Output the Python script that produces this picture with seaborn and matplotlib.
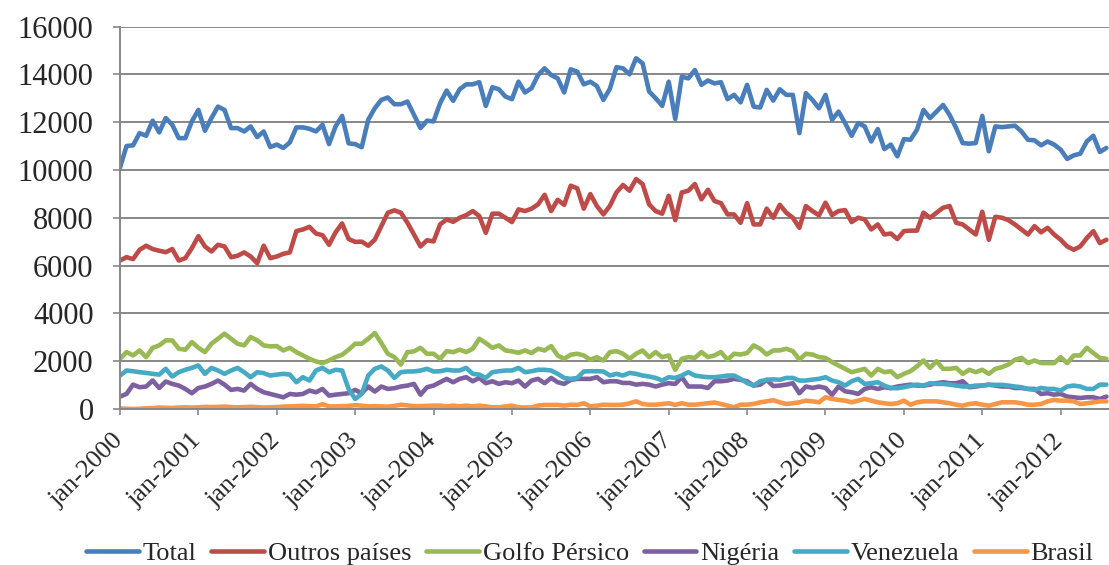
import matplotlib
matplotlib.use("Agg")
import matplotlib.pyplot as plt
import pandas as pd
import seaborn as sns

# Monthly series, jan-2000 .. aug-2012 (thousand barrels/day)
anos = list(range(2000, 2013))
rotulos_x = [f"jan-{a}" for a in anos]
nomes = ["Total", "Outros países", "Golfo Pérsico", "Nigéria", "Venezuela", "Brasil"]
cores = ["#4A7EBB", "#BE4B48", "#98B954", "#7D60A0", "#46AAC5", "#F79646"]

total = [
    10100, 11000, 11030, 11540, 11430, 12060, 11570, 12170, 11890, 11330, 11330, 12030,
    12510, 11640, 12170, 12650, 12510, 11750, 11750, 11610, 11820, 11375, 11610, 10960,
    11060, 10920, 11150, 11780, 11780, 11720, 11610, 11890, 11080, 11820, 12260, 11110,
    11080, 10950, 12100, 12580, 12930, 13030, 12750, 12750, 12860, 12300, 11750, 12060,
    12030, 12790, 13320, 12890, 13375, 13580, 13580, 13670, 12680, 13460, 13375, 13070,
    12960, 13690, 13240, 13420, 13970, 14250, 13970, 13830, 13240, 14210, 14110, 13580,
    13690, 13510, 12930, 13400, 14300, 14250, 14000, 14670, 14460, 13280, 13000, 12680,
    13690, 12130, 13900, 13830, 14180, 13560, 13740, 13620, 13670, 12960, 13140, 12830,
    13560, 12650, 12610, 13350, 12900, 13375, 13140, 13140, 11540, 13210, 12930, 12580,
    13140, 12100, 12440, 11960, 11430, 11960, 11820, 11190, 11710, 10875, 11060, 10570,
    11290, 11260, 11680, 12510, 12170, 12440, 12720, 12300, 11750, 11125, 11100, 11125,
    12260, 10780, 11820, 11790, 11820, 11850, 11610, 11260, 11240, 11030, 11190, 11060,
    10850, 10460, 10610, 10680, 11190, 11430, 10750, 10920,
]
outros = [
    6210, 6350, 6270, 6660, 6830, 6690, 6620, 6560, 6690, 6210, 6310, 6730,
    7230, 6800, 6590, 6870, 6800, 6350, 6410, 6550, 6380, 6100, 6830, 6310,
    6380, 6490, 6550, 7440, 7510, 7620, 7340, 7270, 6870, 7390, 7760, 7110,
    6990, 7000, 6830, 7080, 7650, 8210, 8310, 8210, 7790, 7300, 6800, 7060,
    7010, 7720, 7930, 7830, 8000, 8110, 8280, 8070, 7370, 8170, 8170, 8000,
    7820, 8350, 8280, 8380, 8560, 8960, 8280, 8750, 8540, 9340, 9230, 8380,
    8990, 8490, 8140, 8500, 9060, 9370, 9130, 9620, 9410, 8560, 8280, 8170,
    8920, 7900, 9060, 9130, 9410, 8770, 9170, 8700, 8610, 8140, 8140, 7790,
    8610, 7720, 7720, 8380, 8000, 8540, 8210, 8000, 7580, 8490, 8280, 8100,
    8630, 8110, 8280, 8320, 7820, 8000, 7930, 7510, 7720, 7300, 7340, 7110,
    7440, 7460, 7460, 8210, 8000, 8210, 8420, 8490, 7790, 7720, 7510, 7300,
    8250, 7080, 8040, 8000, 7900, 7720, 7510, 7300, 7650, 7390, 7580, 7300,
    7080, 6800, 6660, 6800, 7150, 7440, 6940, 7080,
]
golfo = [
    2100, 2380, 2240, 2450, 2170, 2560, 2660, 2870, 2870, 2520, 2480, 2800,
    2560, 2380, 2730, 2940, 3150, 2940, 2730, 2660, 3010, 2870, 2660, 2620,
    2630, 2450, 2560, 2380, 2240, 2100, 1990, 1920, 2030, 2170, 2270, 2480,
    2730, 2730, 2940, 3180, 2760, 2310, 2170, 1860, 2380, 2410, 2560, 2310,
    2310, 2100, 2420, 2380, 2480, 2380, 2520, 2940, 2760, 2560, 2660, 2450,
    2410, 2350, 2450, 2340, 2520, 2450, 2630, 2240, 2100, 2270, 2310, 2240,
    2060, 2170, 2030, 2380, 2420, 2310, 2100, 2310, 2450, 2170, 2380, 2170,
    2240, 1640, 2100, 2170, 2140, 2380, 2170, 2240, 2380, 2060, 2310, 2280,
    2340, 2660, 2520, 2280, 2450, 2450, 2520, 2420, 2070, 2310, 2280, 2170,
    2140, 1960, 1820, 1680, 1540, 1610, 1680, 1400, 1680, 1540, 1580, 1330,
    1470, 1580, 1780, 2030, 1720, 2000, 1680, 1680, 1720, 1470, 1640, 1540,
    1640, 1470, 1680, 1750, 1860, 2060, 2140, 1920, 2030, 1920, 1920, 1920,
    2170, 1920, 2240, 2240, 2560, 2340, 2140, 2100,
]
nigeria = [
    520, 630, 1020, 910, 940, 1190, 880, 1150, 1050, 980, 840, 660,
    880, 940, 1050, 1190, 1020, 800, 840, 770, 1050, 840, 700, 630,
    560, 490, 630, 600, 630, 770, 700, 840, 560, 600, 630, 660,
    800, 660, 940, 730, 940, 840, 870, 940, 980, 1050, 600, 910,
    980, 1120, 1260, 1120, 1260, 1330, 1160, 1300, 1080, 1160, 1050, 1120,
    1080, 1190, 940, 1190, 1260, 1080, 1300, 1120, 1050, 1220, 1260, 1260,
    1260, 1330, 1120, 1160, 1160, 1090, 1090, 1020, 1050, 1020, 940, 1020,
    1080, 1050, 1330, 940, 940, 940, 880, 1160, 1160, 1190, 1260, 1220,
    1160, 980, 1020, 1220, 960, 980, 1020, 1080, 660, 940, 880, 940,
    880, 590, 940, 740, 700, 630, 840, 910, 840, 910, 870, 940,
    980, 1020, 980, 980, 1020, 1080, 1120, 1080, 1080, 1160, 910, 940,
    980, 1020, 980, 940, 940, 880, 880, 840, 840, 630, 660, 600,
    630, 520, 490, 460, 490, 490, 420, 520,
]
venezuela = [
    1400, 1610, 1580, 1540, 1510, 1470, 1440, 1680, 1360, 1540, 1640, 1720,
    1820, 1470, 1720, 1610, 1470, 1610, 1720, 1540, 1330, 1540, 1500, 1400,
    1440, 1470, 1440, 1120, 1330, 1190, 1610, 1720, 1540, 1640, 1610, 840,
    420, 630, 1400, 1680, 1780, 1610, 1300, 1540, 1570, 1570, 1610, 1680,
    1570, 1580, 1640, 1610, 1610, 1720, 1470, 1440, 1300, 1540, 1580, 1610,
    1610, 1720, 1540, 1580, 1640, 1640, 1610, 1470, 1300, 1260, 1300, 1570,
    1580, 1580, 1570, 1400, 1470, 1400, 1510, 1470, 1400, 1360, 1300, 1190,
    1330, 1300, 1400, 1540, 1400, 1360, 1330, 1330, 1360, 1400, 1400, 1260,
    1090, 980, 1160, 1220, 1240, 1220, 1300, 1300, 1190, 1190, 1230, 1260,
    1330, 1190, 1120, 980, 1160, 1260, 1050, 1080, 1120, 980, 880, 870,
    910, 970, 1020, 980, 1080, 1050, 1050, 1020, 980, 940, 940, 980,
    980, 1010, 1010, 1010, 980, 940, 910, 840, 800, 880, 840, 840,
    770, 940, 980, 940, 840, 840, 1020, 1020,
]
brasil = [
    20, 10, 0, 10, 30, 40, 60, 50, 40, 60, 70, 60,
    70, 90, 80, 90, 100, 80, 70, 80, 90, 80, 60, 70,
    80, 100, 110, 120, 130, 120, 110, 200, 110, 110, 120, 130,
    160, 140, 110, 120, 110, 100, 130, 180, 150, 120, 120, 130,
    140, 140, 110, 140, 110, 140, 110, 140, 110, 70, 70, 110,
    140, 70, 60, 70, 140, 170, 170, 170, 140, 180, 170, 240,
    110, 140, 180, 170, 170, 180, 240, 320, 210, 180, 180, 210,
    240, 170, 240, 180, 180, 210, 240, 270, 210, 140, 70, 180,
    180, 210, 280, 320, 370, 280, 210, 240, 280, 350, 320, 280,
    490, 420, 380, 350, 280, 350, 420, 350, 280, 240, 210, 240,
    350, 180, 280, 320, 320, 320, 280, 240, 180, 140, 210, 240,
    180, 140, 210, 280, 280, 280, 240, 180, 180, 210, 320, 380,
    350, 350, 320, 210, 240, 280, 320, 320,
]

valores = [total, outros, golfo, nigeria, venezuela, brasil]
n_meses = len(total)

df = pd.concat(
    [pd.DataFrame({"mes": range(n_meses), "valor": v, "serie": nome})
     for nome, v in zip(nomes, valores)],
    ignore_index=True,
)

sns.set_style("white")
plt.rcParams["font.family"] = ["Liberation Serif", "DejaVu Serif"]

fig = plt.figure(figsize=(11.09, 5.65), dpi=100)
ax = fig.add_axes([120 / 1109, 156 / 565, 989 / 1109, 382.5 / 565])

sns.lineplot(
    data=df, x="mes", y="valor", hue="serie", hue_order=nomes,
    palette=cores, linewidth=3.3, ax=ax, legend=True,
    solid_joinstyle="round", solid_capstyle="round",
)

cinza = "#878787"
ax.set_ylim(0, 16000)
ax.set_yticks(range(0, 16001, 2000))
ax.set_xlim(0, 151.4)
ax.set_xticks(range(0, 12 * len(anos), 12))
ax.set_xticklabels(rotulos_x, rotation=45, ha="right", va="center",
                   rotation_mode="anchor")
ax.set_xlabel("")
ax.set_ylabel("")

ax.yaxis.grid(True, color=cinza, linewidth=1.4)
ax.xaxis.grid(False)
ax.set_axisbelow(True)
for lado in ("top", "right"):
    ax.spines[lado].set_visible(False)
for lado in ("left", "bottom"):
    ax.spines[lado].set_color(cinza)
    ax.spines[lado].set_linewidth(1.4)

ax.tick_params(axis="y", direction="out", length=5, width=1.2, color=cinza,
               pad=14, labelsize=22, left=True)
ax.tick_params(axis="x", direction="out", length=4.5, width=1.2, color=cinza,
               pad=16, labelsize=19, bottom=True)

handles, labels = ax.get_legend_handles_labels()
ax.legend(
    handles, labels, loc="center", bbox_to_anchor=(0.532, 0.021),
    bbox_transform=fig.transFigure, ncol=6, frameon=False, fontsize=19,
    handlelength=2.0, handletextpad=0.15, columnspacing=0.55,
)

fig.savefig("out.png", dpi=100)
